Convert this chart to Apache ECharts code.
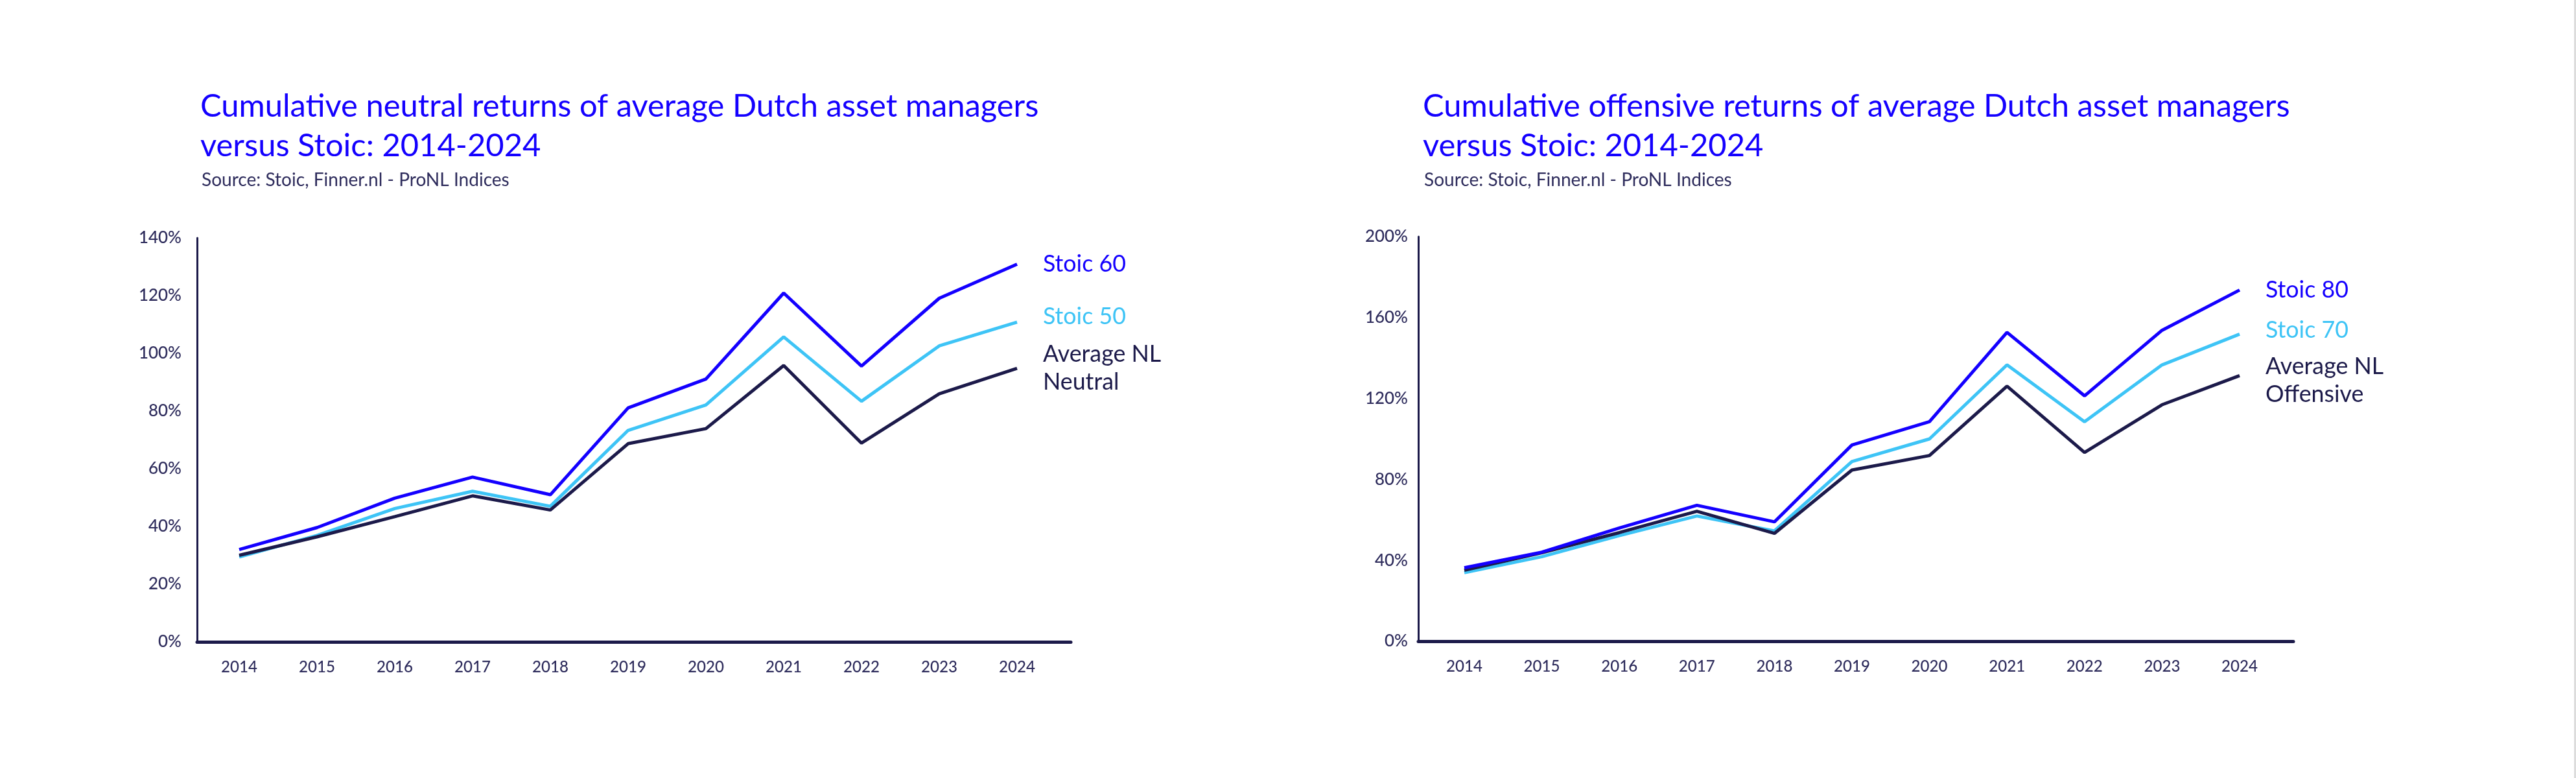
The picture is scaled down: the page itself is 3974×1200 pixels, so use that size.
<!DOCTYPE html>
<html><head><meta charset="utf-8">
<script src="https://cdn.jsdelivr.net/npm/echarts@6/dist/echarts.min.js"></script>
<style>html,body{margin:0;padding:0;background:#fff}#c{width:3974px;height:1200px}</style>
</head><body><div id="c"></div>
<script>
const years = [2014, 2015, 2016, 2017, 2018, 2019, 2020, 2021, 2022, 2023, 2024];

// Neutral chart (left)
const neutralStoic60 = [32.0, 39.6, 49.8, 57.1, 51.0, 81.1, 91.1, 120.9, 95.6, 119.1, 130.9];
const neutralStoic50 = [29.4, 36.9, 46.2, 52.2, 47.0, 73.3, 82.1, 105.7, 83.4, 102.6, 110.8];
const neutralAvgNL   = [30.0, 36.4, 43.4, 50.6, 45.7, 68.7, 73.9, 95.8, 68.9, 86.0, 94.8];

// Offensive chart (right)
const offStoic80 = [36.3, 44.0, 56.0, 67.2, 59.0, 97.0, 108.5, 152.7, 121.3, 153.7, 173.6];
const offStoic70 = [33.9, 41.8, 52.2, 61.9, 54.5, 88.8, 100.0, 136.6, 108.5, 136.6, 151.8];
const offAvgNL   = [35.1, 43.7, 53.7, 64.2, 53.3, 84.6, 91.8, 126.1, 93.3, 116.9, 131.3];

const leftTitle = 'Cumulative neutral returns of average Dutch asset managers\nversus Stoic: 2014-2024';
const rightTitle = 'Cumulative offensive returns of average Dutch asset managers\nversus Stoic: 2014-2024';
const sourceText = 'Source: Stoic, Finner.nl - ProNL Indices';

const FONT = 'Lato';
const BLUE = '#1400ff', LIGHT = '#3ec4f6', NAVY = '#1c1a4a', AXT = '#2e2c5c';

function fit(text, target, weight) {
  const c = document.createElement('canvas').getContext('2d');
  c.font = (weight || 'normal') + ' 100px ' + FONT;
  return 100 * target / c.measureText(text).width;
}
const titleSize = fit('Cumulative neutral returns of average Dutch asset managers', 1294);
const srcSize = fit(sourceText, 475);
const yLabSize = fit('140%', 66, '500');
const xLabSize = fit('2014', 56, '500');
const endSize = fit('Stoic 60', 128);

const pairs = arr => arr.map((v, i) => [years[i], v]);

function yAxis(gi, max, interval, gap) {
  return {
    type: 'value', gridIndex: gi, min: 0, max: max, interval: interval,
    splitLine: { show: false }, axisTick: { show: false },
    axisLine: { show: true, lineStyle: { color: NAVY, width: 3 } },
    axisLabel: { formatter: '{value}%', color: AXT, fontFamily: FONT, fontWeight: 500, fontSize: yLabSize, margin: gap }
  };
}
function xAxis(gi, min, max) {
  return {
    type: 'value', gridIndex: gi, min: min, max: max,
    splitLine: { show: false }, axisTick: { show: false },
    axisLine: { show: true, onZero: false, lineStyle: { color: NAVY, width: 5 } },
    axisLabel: { customValues: years, formatter: v => String(Math.round(v)), color: AXT, fontFamily: FONT, fontWeight: 500, fontSize: xLabSize, margin: 27 }
  };
}
function line(name, data, color, gi, offsetY) {
  return {
    type: 'line', name: name, xAxisIndex: gi, yAxisIndex: gi, data: pairs(data),
    symbol: 'none', lineStyle: { color: color, width: 5 }, itemStyle: { color: color },
    endLabel: { show: true, formatter: name, color: color, fontFamily: FONT, fontSize: endSize,
      lineHeight: 43, distance: 40, offset: [0, offsetY || 0] },
    animation: false
  };
}

const chart = echarts.init(document.getElementById('c'), null, { renderer: 'canvas' });
chart.setOption({
  backgroundColor: '#ffffff',
  animation: false,
  title: [
    { text: leftTitle, left: 304, top: 129, textStyle: { color: BLUE, fontFamily: FONT, fontWeight: 'normal', fontSize: titleSize, lineHeight: 61 } },
    { text: sourceText, left: 306, top: 259, textStyle: { color: AXT, fontFamily: FONT, fontWeight: 'normal', fontSize: srcSize } },
    { text: rightTitle, left: 2190, top: 129, textStyle: { color: BLUE, fontFamily: FONT, fontWeight: 'normal', fontSize: titleSize, lineHeight: 61 } },
    { text: sourceText, left: 2192, top: 259, textStyle: { color: AXT, fontFamily: FONT, fontWeight: 'normal', fontSize: srcSize } }
  ],
  grid: [
    { left: 304, top: 367, width: 1348, height: 623 },
    { left: 2188, top: 365, width: 1350, height: 624 }
  ],
  xAxis: [ xAxis(0, 2014 - 65 / 120, 2024 + 83 / 120), xAxis(1, 2014 - 71 / 119.6, 2024 + 83 / 119.6) ],
  yAxis: [ yAxis(0, 140, 20, 24), yAxis(1, 200, 40, 16) ],
  series: [
    line('Stoic 50', neutralStoic50, LIGHT, 0, -8),
    line('Average NL\nNeutral', neutralAvgNL, NAVY, 0, 0),
    line('Stoic 60', neutralStoic60, BLUE, 0, 0),
    line('Stoic 70', offStoic70, LIGHT, 1, -6),
    line('Average NL\nOffensive', offAvgNL, NAVY, 1, 8),
    line('Stoic 80', offStoic80, BLUE, 1, 0)
  ],
  graphic: [
    { type: 'rect', left: 3971, top: 0, shape: { width: 3, height: 1200 }, style: { fill: '#dcdcdc' } }
  ]
});
</script>
</body></html>
